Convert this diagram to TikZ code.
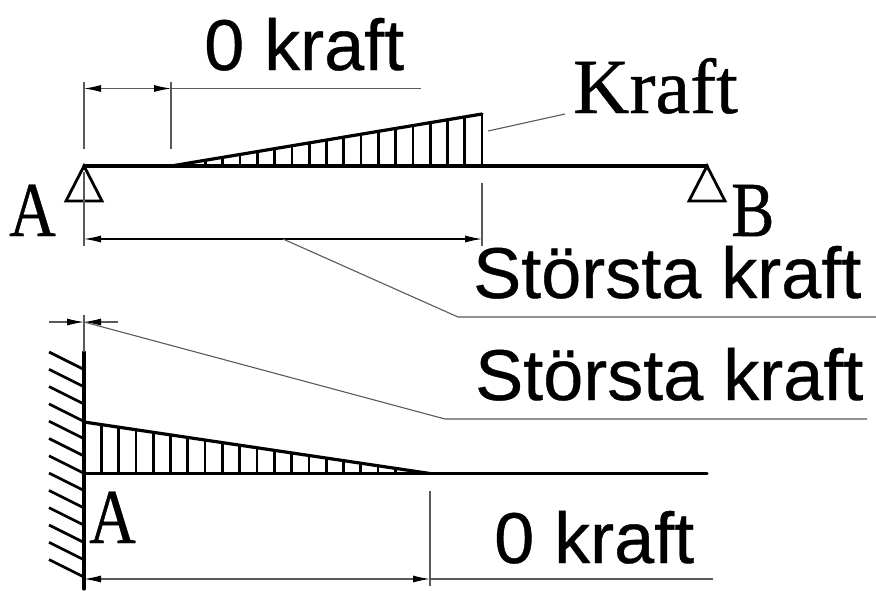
\documentclass[tikz,border=0pt]{standalone}
\usepackage{fontspec}
\setmainfont[FakeBold=0.6]{Liberation Serif}
\newfontfamily\labelsans[FakeBold=0.5]{Liberation Sans}
\usetikzlibrary{arrows.meta}
\tikzset{
  thickline/.style={line width=3.2pt,black,line cap=round,line join=miter},
  hatchline/.style={line width=2.7pt,black},
  thinline/.style={line width=1.1pt,black!65},
  dimline/.style={line width=1.1pt,black!65,{Latex[length=17pt,width=7pt,black]}-{Latex[length=17pt,width=7pt,black]}},
  supporttri/.style={line width=2.8pt,black,line join=miter},
  sanslabel/.style={font=\labelsans\fontsize{72}{72}\selectfont,anchor=base west,inner sep=0pt,text=black},
  seriflabel/.style={font=\fontsize{78}{78}\selectfont,anchor=base west,inner sep=0pt,text=black},
  narrowserif/.style={seriflabel,xscale=0.83}
}
\begin{document}
\begin{tikzpicture}[x=1pt,y=-1pt]
\useasboundingbox (0,0) rectangle (876,590);
% ---- upper beam ----
\coordinate (beamAl) at (84,166);
\coordinate (beamAr) at (707,166);
\coordinate (loadS) at (171,166);
\coordinate (loadE) at (482,166);
\coordinate (loadT) at (482,114);
\foreach \k in {1,...,18}{
  \pgfmathsetmacro{\xx}{171+17.28*\k}
  \pgfmathsetmacro{\yy}{166-52*\k/18}
  \draw[hatchline] (\xx,166) -- (\xx,\yy);
}
\draw[thickline] (loadS) -- (loadT);
\draw[thickline] (beamAl) -- (beamAr);
\draw[supporttri] (beamAl) -- (66,201) -- (102,201) -- cycle;
\draw[supporttri] (beamAr) -- (689,201) -- (725,201) -- cycle;
% dimension top
\coordinate (d1a) at (84,88.5);
\coordinate (d1b) at (171,88.5);
\coordinate (d1c) at (421,88.5);
\draw[thinline] (84,82) -- (84,149);
\draw[thinline] (171,82) -- (171,149);
\draw[dimline] (d1a) -- (d1b);
\draw[thinline] (d1b) -- (d1c);
% dimension mid
\coordinate (d2a) at (84,239);
\coordinate (d2b) at (482,239);
\coordinate (d2m) at (283,239);
\coordinate (d2k) at (458,317);
\coordinate (d2e) at (876,317);
\draw[thinline] (84,172) -- (84,246);
\draw[thinline] (482,183) -- (482,246);
\draw[dimline,black] (d2a) -- (d2b);
\draw[thinline] (d2m) -- (d2k) -- (d2e);
% Kraft leader
\coordinate (kl1) at (488,131);
\coordinate (kl2) at (565,114);
\draw[thinline] (kl1) -- (kl2);
% ---- lower beam ----
\coordinate (wallT) at (84,352);
\coordinate (wallB) at (84,589);
\coordinate (b2l) at (84,473.5);
\coordinate (b2r) at (707,473.5);
\coordinate (l2t) at (84,422);
\coordinate (l2e) at (430,473.5);
\foreach \k in {1,...,19}{
  \pgfmathsetmacro{\xx}{84+17.3*\k}
  \pgfmathsetmacro{\yy}{422+51.5*\k/20}
  \draw[hatchline] (\xx,473.5) -- (\xx,\yy);
}
\foreach \k in {0,...,12}{
  \pgfmathsetmacro{\ya}{352+17.3*\k}
  \pgfmathsetmacro{\yb}{369.5+17.3*\k}
  \draw[line width=2.7pt,black] (49,\ya) -- (84,\yb);
}
\draw[thickline] (wallT) -- (wallB);
\draw[thickline] (b2l) -- (b2r);
\draw[thickline] (l2t) -- (l2e);
% small dimension
\coordinate (d3c) at (84,322);
\coordinate (d3l) at (49,322);
\coordinate (d3r) at (118,322);
\coordinate (d3k) at (445,419);
\coordinate (d3e) at (867,419);
\draw[thinline] (84,315) -- (wallT);
\draw[thinline,-{Latex[length=17pt,width=7pt,black]}] (d3l) -- (d3c);
\draw[thinline,-{Latex[length=17pt,width=7pt,black]}] (d3r) -- (d3c);
\draw[thinline] (d3c) -- (d3k) -- (d3e);
% bottom dimension
\coordinate (d4a) at (84,579);
\coordinate (d4b) at (430,579);
\coordinate (d4e) at (713,579);
\draw[thinline] (430,491) -- (430,586);
\draw[dimline] (d4a) -- (d4b);
\draw[thinline] (d4b) -- (d4e);
% ---- labels ----
\node[sanslabel] (zeroA) at (204,70) {0 kraft};
\node[seriflabel] (kraft) at (573,113) {Kraft};
\node[narrowserif] (labA) at (9,236) {A};
\node[narrowserif] (labB) at (731,236) {B};
\node[sanslabel] (stA) at (473,298) {Största kraft};
\node[sanslabel] (stB) at (475,400) {Största kraft};
\node[narrowserif] (labA2) at (89,543) {A};
\node[sanslabel] (zeroB) at (494,563) {0 kraft};
\end{tikzpicture}
\end{document}
